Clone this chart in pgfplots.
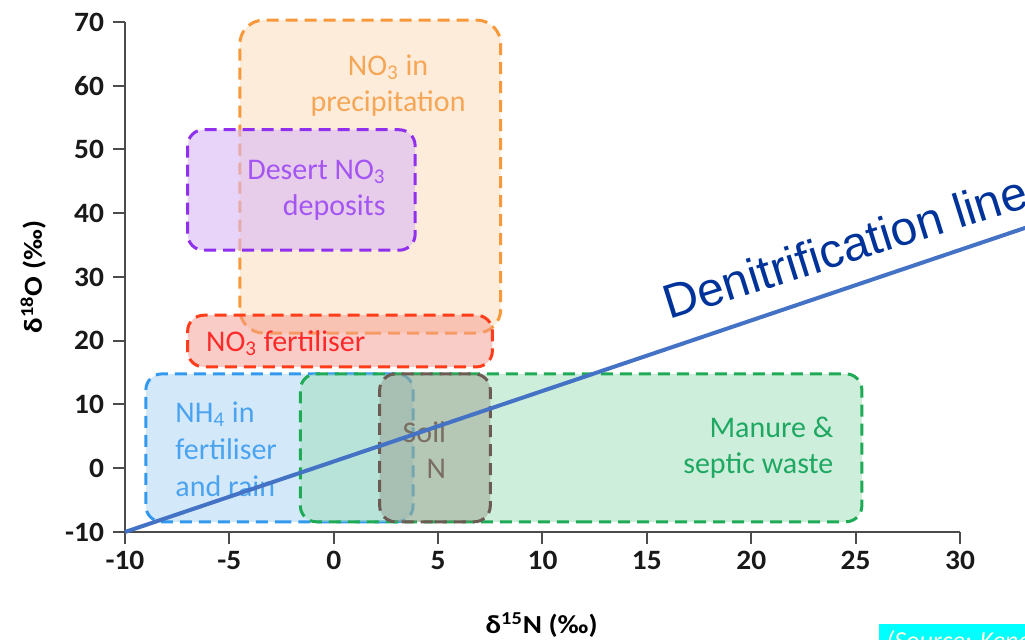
\documentclass[border=0pt]{standalone}
\usepackage{fontspec}
\setmainfont{Carlito}
\newfontfamily\tickfont[FakeStretch=1.05]{Carlito}
\newfontfamily\labelfont[FakeStretch=1.12]{Carlito}
\newfontfamily\arialfont{Liberation Sans}
\usepackage{pgfplots}
\pgfplotsset{compat=1.18}
\definecolor{orE}{HTML}{F7983A}
\definecolor{orF}{HTML}{FCE0C0}
\definecolor{orT}{HTML}{F5A656}
\definecolor{puE}{HTML}{9030EE}
\definecolor{puF}{HTML}{D9B8F5}
\definecolor{puT}{HTML}{A455F2}
\definecolor{reE}{HTML}{FF3D1A}
\definecolor{reF}{HTML}{F59A90}
\definecolor{reT}{HTML}{FF2A2A}
\definecolor{blE}{HTML}{3399EE}
\definecolor{blF}{HTML}{A8D4F5}
\definecolor{blT}{HTML}{4BA3F0}
\definecolor{grE}{HTML}{1FAA55}
\definecolor{grF}{HTML}{9CDDB8}
\definecolor{grT}{HTML}{1FA862}
\definecolor{brE}{HTML}{6B5B53}
\definecolor{brF}{HTML}{8A8070}
\definecolor{brT}{HTML}{7A6E62}
\definecolor{lnB}{HTML}{4472C4}
\definecolor{dnT}{HTML}{003399}
\definecolor{cyanbox}{HTML}{00FFFF}
\definecolor{srcT}{HTML}{FFFFE0}
\begin{document}
\begin{tikzpicture}
\path[use as bounding box] (-62.5pt,-54pt) rectangle (450pt,266pt);
\clip (-62.5pt,-54pt) rectangle (450pt,266pt);
\begin{axis}[
  at={(0,0)}, anchor=south west,
  scale only axis, width=417.5pt, height=255pt,
  xmin=-10, xmax=30, ymin=-10, ymax=70,
  axis lines=left, axis line style={-, line width=1.3pt, black!70},
  tick align=outside, major tick length=6pt, tick style={line width=1pt, black!70},
  xtick={-10,-5,...,30}, ytick={-10,0,...,70},
  xticklabels={-10,-5,0,5,10,15,20,25,30},
  yticklabels={-10,0,10,20,30,40,50,60,70},
  ticklabel style={font=\tickfont\fontsize{14}{15}\selectfont\bfseries, text=black!90},
  yticklabel style={xshift=-1pt},
  clip=false,
  xlabel={δ\textsuperscript{15}N (‰)},
  ylabel={δ\textsuperscript{18}O (‰)},
  label style={font=\labelfont\fontsize{13}{15}\selectfont\bfseries},
  xlabel style={at={(axis description cs:0.499,-0.182)}, anchor=center},
  ylabel style={at={(axis description cs:-0.110,0.5)}, anchor=center},
  box/.style={line width=1.5pt, dash pattern=on 6pt off 3.5pt, fill opacity=0.6, rounded corners=8pt},
]
% NO3 in precipitation
\addplot[box, draw=orE, fill=orF, rounded corners=12pt] coordinates {(1.7,21.2) (8.0,21.2) (8.0,70.3) (-4.5,70.3) (-4.5,21.2) (1.7,21.2)};
% Desert NO3 deposits
\addplot[box, draw=puE, fill=puF] coordinates {(-1.5,34.2) (3.9,34.2) (3.9,53.1) (-7.0,53.1) (-7.0,34.2) (-1.5,34.2)};
% NO3 fertiliser
\addplot[box, draw=reE, fill=reF, fill opacity=0.5] coordinates {(0.3,15.9) (7.6,15.9) (7.6,24.0) (-7.0,24.0) (-7.0,15.9) (0.3,15.9)};
% NH4 in fertiliser and rain
\addplot[box, draw=blE, fill=blF, fill opacity=0.5] coordinates {(-2.6,-8.4) (3.8,-8.4) (3.8,14.8) (-9.0,14.8) (-9.0,-8.4) (-2.6,-8.4)};
% Manure & septic waste
\addplot[box, draw=grE, fill=grF, fill opacity=0.5] coordinates {(11.8,-8.4) (25.3,-8.4) (25.3,14.8) (-1.6,14.8) (-1.6,-8.4) (11.8,-8.4)};
% Soil N
\addplot[box, draw=brE, fill=brF, fill opacity=0.35] coordinates {(4.85,-8.4) (7.5,-8.4) (7.5,14.8) (2.2,14.8) (2.2,-8.4) (4.85,-8.4)};

\node[font=\fontsize{15}{18}\selectfont, text=orT, align=center] at (axis cs:2.6,60.0) {NO\textsubscript{3} in\\precipitation};
\node[font=\fontsize{15}{18}\selectfont, text=puT, align=right, anchor=east, inner sep=0pt] at (axis cs:2.5,43.6) {Desert NO\textsubscript{3}\\deposits};
\node[font=\fontsize{15}{18}\selectfont, text=reT] at (axis cs:-2.3,19.6) {NO\textsubscript{3} fertiliser};
\node[font=\fontsize{15}{18.5}\selectfont, text=blT, align=left, anchor=west, inner sep=0pt] at (axis cs:-7.6,3.0) {NH\textsubscript{4} in\\fertiliser\\and rain};
\node[font=\fontsize{15}{18}\selectfont, text=brT, align=right, anchor=east, inner sep=0pt] at (axis cs:5.4,2.9) {Soil\\N};
\node[font=\fontsize{15}{18}\selectfont, text=grT, align=right, anchor=east, inner sep=0pt] at (axis cs:23.95,3.2) {Manure \&\\septic waste};

% Denitrification line
\addplot[color=lnB, line width=2pt] coordinates {(-10,-10) (33.3,37.9)};
\node[font=\arialfont\fontsize{24}{28}\selectfont, text=dnT, rotate=17.4, anchor=base west, inner sep=0pt] at (axis cs:16.05,23.3) {Denitrification line};

\node[anchor=north west, fill=cyanbox, text=srcT, font=\itshape\fontsize{13}{15}\selectfont, inner xsep=4pt, inner ysep=3pt] at (axis description cs:0.902,-0.180) {(Source: Kendall et al.)};
\end{axis}
\end{tikzpicture}
\end{document}
